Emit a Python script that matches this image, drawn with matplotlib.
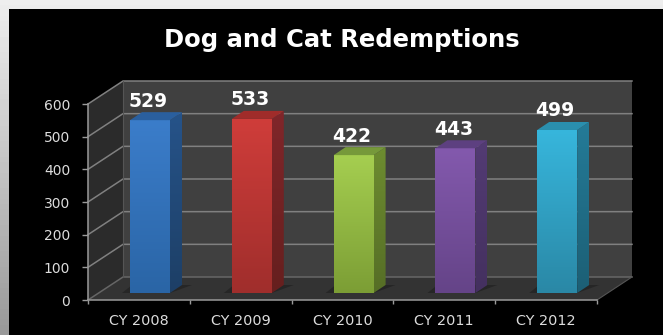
#! /usr/bin/python3
# -*- coding: utf-8 -*-
import matplotlib
matplotlib.use('Agg')
import matplotlib.pyplot as plt
import numpy as np
from matplotlib.patches import Polygon

categories = ['CY 2008', 'CY 2009', 'CY 2010', 'CY 2011', 'CY 2012']
redemptions = [529, 533, 422, 443, 499]
y_ticks = [0, 100, 200, 300, 400, 500, 600]
title = 'Dog and Cat Redemptions'

# front colour top/bottom, side colour top/bottom, lid colour
bar_colors = [
    ('#3b7dca', '#2a65a6', '#265389', '#1d3f66', '#2a5f9e'),
    ('#cf3d3a', '#a02e2c', '#80262a', '#661f1e', '#a02c2a'),
    ('#a5ce50', '#7c9e35', '#6d8c30', '#566e26', '#76993a'),
    ('#8359ad', '#654488', '#533b74', '#44305f', '#5d4080'),
    ('#37b6dc', '#2a88a6', '#247b98', '#1c5f75', '#2a8fae'),
]

W, H = 663, 335
AX_L, AX_R, AX_T, AX_B = 88, 597, 104, 300
DEPTH_X, DEPTH_Y = 35, 23
PT = 0.72  # points per pixel at dpi 100

plt.rcParams['font.family'] = ['DejaVu Sans']
fig = plt.figure(figsize=(W / 100, H / 100), dpi=100, facecolor='black')

# slide background, a light band top and left of the black panel
bg = fig.add_axes([0, 0, 1, 1])
grad = np.linspace(0.93, 0.60, 64).reshape(-1, 1)
bg.imshow(grad, cmap='gray', vmin=0, vmax=1, extent=[0, W, H, 0], aspect='auto')
bg.add_patch(plt.Rectangle((9, 9), W, H, color='black', lw=0))
bg.set_xlim(0, W)
bg.set_ylim(H, 0)
bg.axis('off')

ax = fig.add_axes([AX_L / W, 1 - AX_B / H, (AX_R - AX_L) / W, (AX_B - AX_T) / H])
ax.set_facecolor('none')
ax.set_xlim(0, len(categories))
ax.set_ylim(0, 600)

# pixel to data factors, used for the fake 3d depth
px_x = len(categories) / (AX_R - AX_L)
px_y = 600.0 / (AX_B - AX_T)
dx = DEPTH_X * px_x
dy = DEPTH_Y * px_y
n = len(categories)

ax.add_patch(Polygon([(dx, dy), (n + dx, dy), (n + dx, 600 + dy), (dx, 600 + dy)],
                     fc='#404040', ec='none', clip_on=False, zorder=1))
ax.add_patch(Polygon([(0, 0), (dx, dy), (dx, 600 + dy), (0, 600)],
                     fc='#2b2b2b', ec='none', clip_on=False, zorder=1))
ax.add_patch(Polygon([(0, 0), (n, 0), (n + dx, dy), (dx, dy)],
                     fc='#333333', ec='none', clip_on=False, zorder=1))

for v in y_ticks[1:]:
    ax.plot([0, dx, n + dx], [v, v + dy, v + dy], color='#808080', lw=1.1,
            clip_on=False, zorder=2)
ax.plot([0, dx, n + dx], [0, dy, dy], color='#666666', lw=1.1, clip_on=False, zorder=2)
ax.plot([n, n + dx], [0, dy], color='#555555', lw=0.8, clip_on=False, zorder=2)
ax.plot([dx, dx], [dy, 600 + dy], color='#555555', lw=0.8, clip_on=False, zorder=2)


def shaded(pts, top, bottom, ymin, ymax):
    """polygon filled with a vertical gradient"""
    cm = matplotlib.colors.LinearSegmentedColormap.from_list('f', [top, bottom])
    xs = [p[0] for p in pts]
    im = ax.imshow(np.linspace(0, 1, 64).reshape(-1, 1), cmap=cm, aspect='auto',
                   extent=[min(xs), max(xs), ymin, ymax], zorder=4, clip_on=True)
    clip = Polygon(pts, transform=ax.transData, fc='none', ec='none')
    ax.add_patch(clip)
    clip.set_clip_on(False)
    im.set_clip_path(clip)


bar_w = 40 * px_x
bar_left = 42 * px_x
bar_dx = 12 * px_x
bar_dy = 8 * px_y
base = 7 * px_y

for i, val in enumerate(redemptions):
    c = bar_colors[i]
    x0 = i + bar_left
    x1 = x0 + bar_w
    y0 = base
    y1 = base + val
    # soft shadow on the floor
    ax.add_patch(Polygon([(x0 - 8 * px_x, y0), (x1, y0), (x1 + bar_dx + 10 * px_x, y0 + bar_dy),
                          (x0 + 2 * px_x, y0 + bar_dy)],
                         fc='#262626', ec='none', clip_on=False, zorder=3))
    shaded([(x0, y0), (x1, y0), (x1, y1), (x0, y1)], c[0], c[1], y0, y1)
    shaded([(x1, y0), (x1 + bar_dx, y0 + bar_dy), (x1 + bar_dx, y1 + bar_dy), (x1, y1)],
           c[2], c[3], y0, y1 + bar_dy)
    ax.add_patch(Polygon([(x0, y1), (x1, y1), (x1 + bar_dx, y1 + bar_dy), (x0 + bar_dx, y1 + bar_dy)],
                         fc=c[4], ec='none', clip_on=False, zorder=5))
    ax.annotate(str(val), (x0 + bar_w / 2, y1), xytext=(-2 * PT, 19 * PT),
                textcoords='offset points', ha='center', va='center', color='white',
                fontsize=13.5, fontweight='bold', zorder=6, annotation_clip=False)

ax.set_xlim(0, n)
ax.set_ylim(0, 600)

for s in ['top', 'right']:
    ax.spines[s].set_visible(False)
for s in ['left', 'bottom']:
    ax.spines[s].set_color('#9a9a9a')
    ax.spines[s].set_linewidth(1.1)
    ax.spines[s].set_zorder(7)
ax.set_yticks(y_ticks)
ax.set_xticks(np.arange(n + 1))
ax.set_xticklabels([])
ax.set_xticks(np.arange(n) + 0.5, minor=True)
ax.set_xticklabels(categories, minor=True)
ax.tick_params(axis='x', which='major', length=3, width=1, color='#9a9a9a')
ax.tick_params(axis='x', which='minor', length=0, pad=10, labelsize=10.4, labelcolor='#dcdcdc')
ax.tick_params(axis='y', length=4.3, width=1, color='#9a9a9a', pad=8.6, labelsize=10,
               labelcolor='#dcdcdc')

fig.text(342 / W, 1 - 40 / H, title, ha='center', va='center', color='white',
         fontsize=17.5, fontweight='bold')

fig.savefig('out.png', dpi=100, facecolor='black')
